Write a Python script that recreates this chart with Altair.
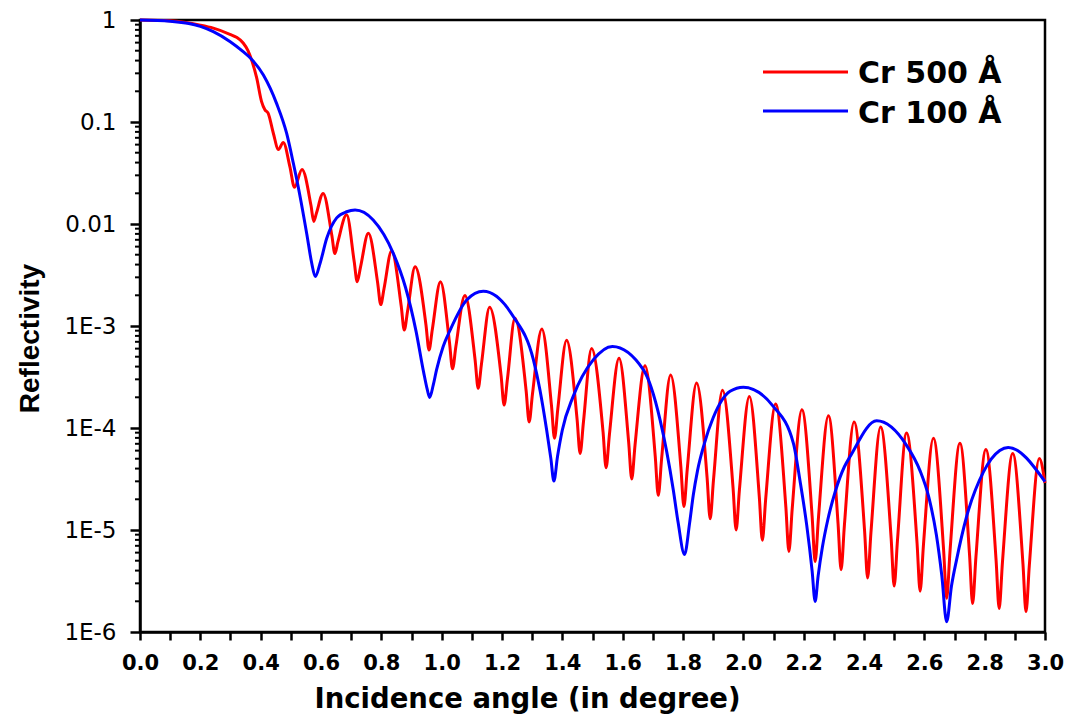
import altair as alt
import pandas as pd

# ---------------- data ----------------
series_names = ["Cr 500 Å", "Cr 100 Å"]
series_colors = ["#FF0000", "#0000FF"]

# Cr 500 Å : incidence angle (deg) and log10(reflectivity)
red_x = [0.000, 0.100, 0.200, 0.243, 0.298, 0.320, 0.342, 0.358, 0.372, 0.387,
         0.403, 0.414, 0.425, 0.442, 0.459, 0.475, 0.497, 0.512, 0.537, 0.567,
         0.576, 0.585, 0.607, 0.636, 0.646, 0.656, 0.685, 0.710, 0.720, 0.731,
         0.757, 0.788, 0.798, 0.809, 0.834, 0.866, 0.876, 0.887, 0.912, 0.948,
         0.958, 0.969, 0.996, 1.026, 1.036, 1.047, 1.077, 1.111, 1.121, 1.132,
         1.159, 1.197, 1.207, 1.218, 1.243, 1.280, 1.290, 1.301, 1.332, 1.364,
         1.374, 1.385, 1.414, 1.449, 1.459, 1.470, 1.497, 1.535, 1.545, 1.556,
         1.588, 1.620, 1.630, 1.641, 1.674, 1.708, 1.718, 1.729, 1.759, 1.793,
         1.803, 1.814, 1.845, 1.880, 1.890, 1.901, 1.931, 1.966, 1.976, 1.987,
         2.020, 2.053, 2.063, 2.074, 2.107, 2.141, 2.151, 2.162, 2.194, 2.228,
         2.238, 2.249, 2.282, 2.314, 2.324, 2.335, 2.367, 2.402, 2.412, 2.423,
         2.455, 2.490, 2.500, 2.511, 2.541, 2.576, 2.586, 2.597, 2.630, 2.664,
         2.674, 2.685, 2.718, 2.750, 2.760, 2.771, 2.804, 2.838, 2.848, 2.859,
         2.893, 2.927, 2.937, 2.948, 2.981, 3.000]
red_log10 = [0.000, -0.008, -0.050, -0.080, -0.140, -0.170, -0.225, -0.300, -0.410, -0.570,
             -0.800, -0.880, -0.915, -1.110, -1.270, -1.200, -1.440, -1.640, -1.465, -1.822,
             -1.975, -1.892, -1.700, -2.113, -2.290, -2.176, -1.910, -2.368, -2.565, -2.422,
             -2.090, -2.580, -2.790, -2.632, -2.265, -2.807, -3.040, -2.854, -2.420, -2.990,
             -3.235, -3.034, -2.565, -3.163, -3.420, -3.204, -2.700, -3.337, -3.610, -3.371,
             -2.815, -3.487, -3.775, -3.520, -2.925, -3.635, -3.940, -3.667, -3.030, -3.779,
             -4.100, -3.812, -3.140, -3.917, -4.250, -3.941, -3.220, -4.039, -4.390, -4.067,
             -3.315, -4.144, -4.500, -4.167, -3.390, -4.279, -4.660, -4.306, -3.480, -4.383,
             -4.770, -4.407, -3.560, -4.491, -4.890, -4.512, -3.630, -4.589, -5.000, -4.607,
             -3.690, -4.677, -5.100, -4.700, -3.765, -4.776, -5.210, -4.793, -3.820, -4.863,
             -5.310, -4.881, -3.880, -4.937, -5.390, -4.955, -3.940, -5.011, -5.470, -5.026,
             -3.990, -5.082, -5.550, -5.100, -4.050, -5.135, -5.600, -5.150, -4.100, -5.199,
             -5.670, -5.214, -4.150, -5.249, -5.720, -5.267, -4.210, -5.302, -5.770, -5.314,
             -4.250, -5.335, -5.800, -5.350, -4.300, -4.540]

# Cr 100 Å
blue_x = [0.000, 0.100, 0.200, 0.243, 0.298, 0.342, 0.365, 0.409, 0.453, 0.486,
          0.508, 0.530, 0.553, 0.569, 0.581, 0.597, 0.619, 0.652, 0.685, 0.713,
          0.773, 0.840, 0.880, 0.915, 0.940, 0.952, 0.960, 0.972, 0.983, 1.005,
          1.028, 1.083, 1.138, 1.238, 1.304, 1.326, 1.348, 1.362, 1.372, 1.384,
          1.400, 1.436, 1.503, 1.566, 1.669, 1.724, 1.768, 1.784, 1.805, 1.822,
          1.834, 1.848, 1.870, 1.900, 1.956, 2.000, 2.100, 2.166, 2.188, 2.210,
          2.228, 2.238, 2.248, 2.262, 2.280, 2.305, 2.335, 2.354, 2.442, 2.541,
          2.586, 2.615, 2.640, 2.658, 2.674, 2.690, 2.707, 2.740, 2.796, 2.850,
          2.878, 3.000]
blue_log10 = [0.000, -0.012, -0.062, -0.114, -0.210, -0.310, -0.370, -0.540, -0.820, -1.110,
              -1.400, -1.720, -2.100, -2.380, -2.515, -2.385, -2.140, -1.940, -1.880, -1.863,
              -1.960, -2.290, -2.620, -3.050, -3.450, -3.620, -3.700, -3.580, -3.430, -3.200,
              -3.040, -2.745, -2.660, -2.910, -3.330, -3.630, -4.020, -4.300, -4.520, -4.280,
              -4.020, -3.690, -3.330, -3.200, -3.430, -3.920, -4.610, -4.930, -5.240, -4.930,
              -4.660, -4.420, -4.160, -3.900, -3.640, -3.600, -3.790, -4.150, -4.520, -4.950,
              -5.400, -5.700, -5.450, -5.170, -4.900, -4.620, -4.380, -4.280, -3.930, -4.170,
              -4.420, -4.680, -5.050, -5.450, -5.900, -5.550, -5.290, -4.870, -4.430, -4.220,
              -4.190, -4.526]

x_tick_values = [round(0.1 * i, 1) for i in range(31)]
y_major_ticks = [1.0, 0.1, 0.01, 1e-3, 1e-4, 1e-5, 1e-6]
y_major_labels = ["1", "0.1", "0.01", "1E-3", "1E-4", "1E-5", "1E-6"]
y_minor_ticks = [m * 10.0 ** e for e in range(-6, 0) for m in range(2, 10)]

# ---------------- build tables ----------------
df_red = pd.DataFrame({"Angle": red_x, "Reflectivity": [10 ** v for v in red_log10]})
df_blue = pd.DataFrame({"Angle": blue_x, "Reflectivity": [10 ** v for v in blue_log10]})
df_minor = pd.DataFrame({"Reflectivity": y_minor_ticks})

FONT = "DejaVu Sans"

x_label_expr = "round(datum.value * 10) % 2 == 0 ? format(datum.value, '.1f') : ''"
y_label_expr = " : ".join(
    f"abs(datum.value - {v!r}) < {v * 1e-3!r} ? '{t}'" for v, t in zip(y_major_ticks, y_major_labels)
) + " : ''"

x_scale = alt.Scale(domain=[0, 3], nice=False, zero=False)
y_scale = alt.Scale(type="log", domain=[1e-6, 1], nice=False)

x_axis = alt.Axis(
    values=x_tick_values, labelExpr=x_label_expr, labelOverlap=False,
    title="Incidence angle (in degree)", titleFont=FONT, titleFontSize=27.5,
    titleFontWeight="bold", titleX=387, titleY=75, titleBaseline="alphabetic",
    titleAlign="center", labelFont=FONT, labelFontSize=21, labelFontWeight="bold",
    labelColor="black", labelPadding=12, tickSize=8, tickWidth=2.5, tickColor="black",
    domainColor="black", domainWidth=2.5, grid=False, labelFlush=False,
)
y_axis = alt.Axis(
    values=y_major_ticks, labelExpr=y_label_expr, labelOverlap=False,
    title="Reflectivity", titleFont="Liberation Sans", titleFontSize=28,
    titleFontWeight="bold", titleAngle=270, titleX=-110, titleY=318,
    titleBaseline="middle", titleAlign="center",
    labelFont=FONT, labelFontSize=23, labelFontWeight="normal", labelColor="black",
    labelPadding=14, tickSize=10, tickWidth=2.5, tickColor="black",
    domainColor="black", domainWidth=2.5, grid=False, labelFlush=False,
)

red_line = alt.Chart(df_red).mark_line(
    color=series_colors[0], strokeWidth=3, interpolate="monotone"
).encode(
    x=alt.X("Angle:Q", scale=x_scale, axis=x_axis),
    y=alt.Y("Reflectivity:Q", scale=y_scale, axis=y_axis),
)
blue_line = alt.Chart(df_blue).mark_line(
    color=series_colors[1], strokeWidth=3, interpolate="monotone"
).encode(
    x=alt.X("Angle:Q", scale=x_scale, axis=x_axis),
    y=alt.Y("Reflectivity:Q", scale=y_scale, axis=y_axis),
)

minor_ticks = alt.Chart(df_minor).mark_rule(
    color="black", strokeWidth=2, clip=False
).encode(
    y=alt.Y("Reflectivity:Q", scale=y_scale, axis=y_axis),
    x=alt.value(-5), x2=alt.value(0),
)

# legend (drawn in the upper right, as in the reference)
legend_layers = []
for i, (name, col) in enumerate(zip(series_names, series_colors)):
    ldf = pd.DataFrame({"series": [name]})
    legend_layers.append(
        alt.Chart(ldf).mark_rule(color=col, strokeWidth=3).encode(
            x=alt.value(623), x2=alt.value(708), y=alt.value(52 + 39 * i)
        )
    )
    legend_layers.append(
        alt.Chart(ldf).mark_text(
            font=FONT, fontSize=30, fontWeight="bold", color="black",
            align="left", baseline="alphabetic"
        ).encode(
            x=alt.value(718), y=alt.value(63 + 40 * i), text="series:N"
        )
    )

chart = alt.layer(red_line, blue_line, minor_ticks, *legend_layers).properties(
    width=905, height=612,
    autosize=alt.AutoSizeParams(type="none"),
    padding={"left": 140, "top": 20, "right": 24, "bottom": 85},
    background="white",
).configure_view(stroke="black", strokeWidth=2.5)

chart.save("out.html", embed_options={"renderer": "svg", "actions": False})
